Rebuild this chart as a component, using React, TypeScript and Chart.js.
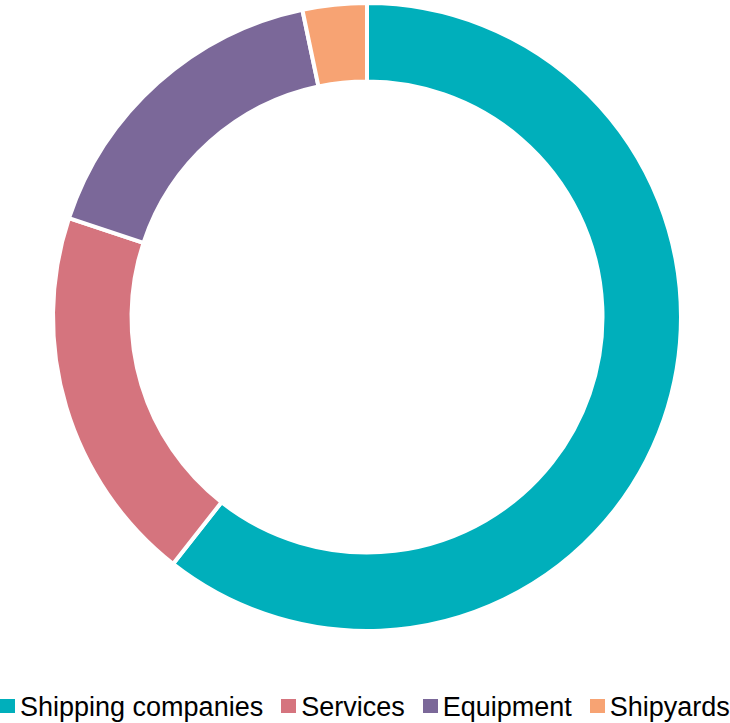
import { useEffect, useRef } from "react"
import { Chart, registerables } from "chart.js"

Chart.register(...registerables)

// share of total, read clockwise from 12 o'clock
const categories = ["Shipping companies", "Services", "Equipment", "Shipyards"]
const shares = [60.6, 19.5, 16.6, 3.3]

const colors = ["#00afbb", "#d5747e", "#7b6899", "#f7a373"]

function Doughnut() {
  const chartRef = useRef<HTMLCanvasElement>(null)
  const chartInstance = useRef<Chart | null>(null)

  useEffect(() => {
    if (!chartRef.current) return
    if (chartInstance.current) chartInstance.current.destroy()

    chartInstance.current = new Chart(chartRef.current, {
      type: "doughnut",
      data: {
        labels: categories,
        datasets: [
          {
            data: shares,
            backgroundColor: colors,
            borderColor: "#ffffff",
            borderWidth: 4,
            hoverOffset: 0,
            offset: 0,
          },
        ],
      },
      options: {
        animation: false,
        responsive: true,
        maintainAspectRatio: false,
        cutout: "75%",
        layout: { padding: { top: 1, bottom: 1, left: 4, right: 0 } },
        plugins: {
          legend: { display: false },
          tooltip: { enabled: false },
        },
      },
    })

    return () => {
      if (chartInstance.current) {
        chartInstance.current.destroy()
        chartInstance.current = null
      }
    }
  }, [])

  return (
    <div style={{ position: "relative", width: 730, height: 634 }}>
      <canvas ref={chartRef} />
    </div>
  )
}

export default function App() {
  return (
    <div style={{ position: "relative", width: 730, height: 723, background: "#fff" }}>
      <style>{`body { margin: 0; }`}</style>
      <Doughnut />
      <div
        style={{
          position: "absolute",
          top: 692,
          left: 0,
          display: "flex",
          alignItems: "center",
          gap: 18,
          whiteSpace: "nowrap",
          fontFamily: "'Liberation Sans', Arial, sans-serif",
          fontSize: 27,
          lineHeight: "30px",
          color: "#000",
        }}
      >
        {categories.map((name, i) => (
          <div key={name} style={{ display: "flex", alignItems: "center" }}>
            <span
              style={{
                display: "inline-block",
                width: 15,
                height: 14,
                marginRight: 5,
                marginTop: -3,
                background: colors[i],
              }}
            />
            <span>{name}</span>
          </div>
        ))}
      </div>
    </div>
  )
}
